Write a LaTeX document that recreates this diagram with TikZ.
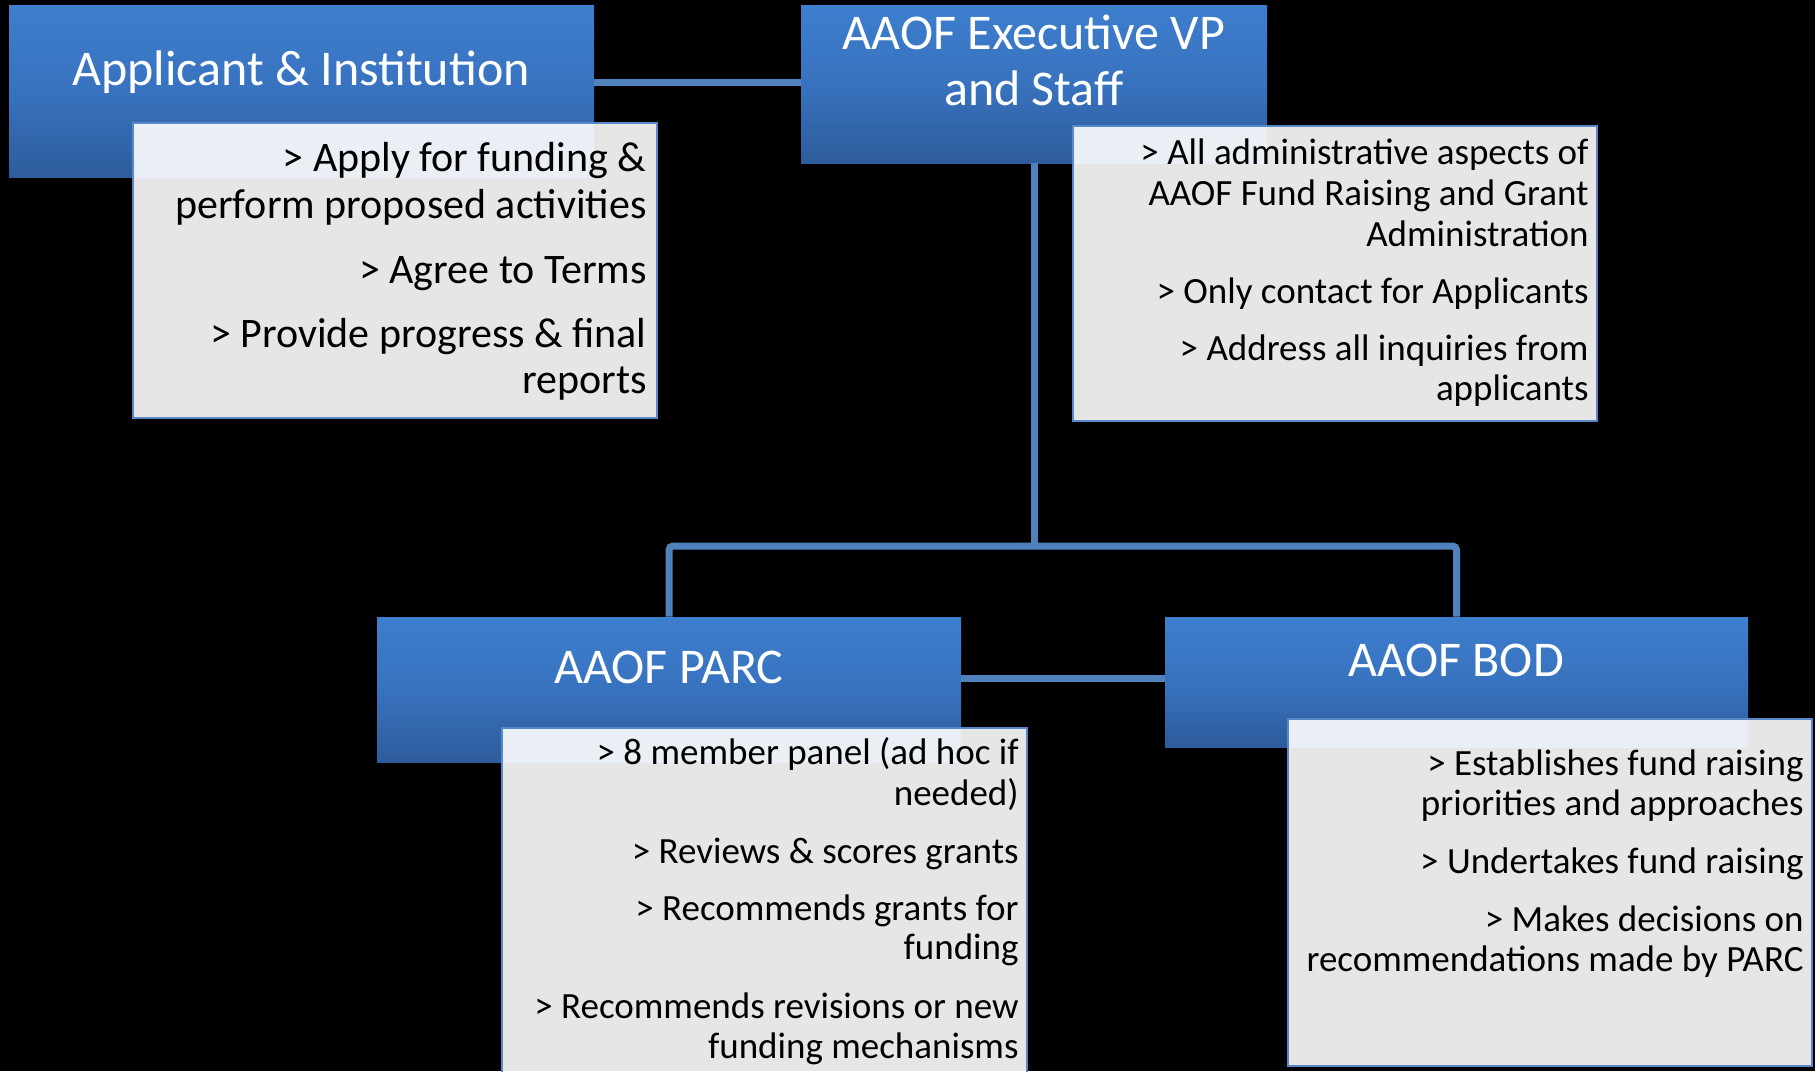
\documentclass[tikz,border=0pt]{standalone}
\usepackage{fontspec}
\setmainfont{Carlito}
\definecolor{conncol}{RGB}{79,129,189}
\definecolor{bluetop}{RGB}{61,126,206}
\definecolor{bluemid}{RGB}{56,114,190}
\definecolor{bluebot}{RGB}{45,92,156}
\definecolor{gborder}{RGB}{88,136,200}
\tikzset{
  bluebox/.style={rectangle, inner sep=0pt, draw=none, top color=bluetop, bottom color=bluebot, middle color=bluemid},
  greybox/.style={rectangle, inner sep=0pt, draw=gborder, line width=1pt, fill=white, fill opacity=0.9, draw opacity=1},
  conn/.style={draw=conncol, line width=3.5pt, rounded corners=2pt},
  title/.style={anchor=base, inner sep=0pt, text=white, font=\fontsize{25}{30}\selectfont},
  gtxt/.style={anchor=base east, inner sep=0pt, text=black, font=\fontsize{18.5}{22}\selectfont},
  gtxtbig/.style={anchor=base east, inner sep=0pt, text=black, font=\fontsize{21}{25}\selectfont}
}
\begin{document}
\begin{tikzpicture}[x=0.5pt, y=-0.5pt]
\useasboundingbox (0,0) rectangle (1815,1071);
\fill[black] (0,0) rectangle (1815,1071);
\begin{scope}
\clip (0,0) rectangle (1815,1071);
% blue boxes
\node[bluebox, minimum width=292.5pt, minimum height=86pt] (app) at (301.5,91) {};
\node[bluebox, minimum width=233pt, minimum height=79pt] (exec) at (1034,84) {};
\node[bluebox, minimum width=292pt, minimum height=72.5pt] (parc) at (669,689.5) {};
\node[bluebox, minimum width=291.5pt, minimum height=65pt] (bod) at (1456.5,682) {};
% connectors
\coordinate (bus) at (1034,546);
\coordinate (toplink) at (700,82);
\coordinate (botlink) at (1060,678);
\draw[conn] (app.east |- toplink) -- (exec.west |- toplink);
\draw[conn] (exec.south) -- (exec.south |- bus);
\draw[conn] (parc.north) -- (parc.north |- bus) -- (bod.north |- bus) -- (bod.north);
\draw[conn] (parc.east |- botlink) -- (bod.west |- botlink);
% titles
\node[title] (tapp) at (301,85) {Applicant \& Institution};
\node[title] (texec1) at (1034,49) {AAOF Executive VP};
\node[title] (texec2) at (1034,105) {and Staff};
\node[title] (tparc) at (669,683) {AAOF PARC};
\node[title] (tbod) at (1456,676) {AAOF BOD};
% grey boxes
\node[greybox, minimum width=262pt, minimum height=147.5pt] (appg) at (395,270.5) {};
\node[greybox, minimum width=262pt, minimum height=147.5pt] (execg) at (1335,273.5) {};
\node[greybox, minimum width=262.5pt, minimum height=176pt] (parcg) at (764.5,904) {};
\node[greybox, minimum width=262pt, minimum height=173.5pt] (bodg) at (1550,892.5) {};
% applicant text
\node[gtxtbig] (a1) at (647,171) {> Apply for funding \&};
\node[gtxtbig] (a2) at (647,218) {perform proposed activities};
\node[gtxtbig] (a3) at (647,283) {> Agree to Terms};
\node[gtxtbig] (a4) at (647,347) {> Provide progress \& final};
\node[gtxtbig] (a5) at (647,393) {reports};
% exec text
\node[gtxt] (e1) at (1589,164) {> All administrative aspects of};
\node[gtxt] (e2) at (1589,205) {AAOF Fund Raising and Grant};
\node[gtxt] (e3) at (1589,246) {Administration};
\node[gtxt] (e4) at (1589,303) {> Only contact for Applicants};
\node[gtxt] (e5) at (1589,360) {> Address all inquiries from};
\node[gtxt] (e6) at (1589,400) {applicants};
% parc text
\node[gtxt] (p1) at (1019,764) {> 8 member panel (ad hoc if};
\node[gtxt] (p2) at (1019,805) {needed)};
\node[gtxt] (p3) at (1019,863) {> Reviews \& scores grants};
\node[gtxt] (p4) at (1019,920) {> Recommends grants for};
\node[gtxt] (p5) at (1019,959) {funding};
\node[gtxt] (p6) at (1019,1018) {> Recommends revisions or new};
\node[gtxt] (p7) at (1019,1058) {funding mechanisms};
% bod text
\node[gtxt] (b1) at (1804,775) {> Establishes fund raising};
\node[gtxt] (b2) at (1804,815) {priorities and approaches};
\node[gtxt] (b3) at (1804,873) {> Undertakes fund raising};
\node[gtxt] (b4) at (1804,931) {> Makes decisions on};
\node[gtxt] (b5) at (1804,971) {recommendations made by PARC};
\end{scope}
\end{tikzpicture}
\end{document}
